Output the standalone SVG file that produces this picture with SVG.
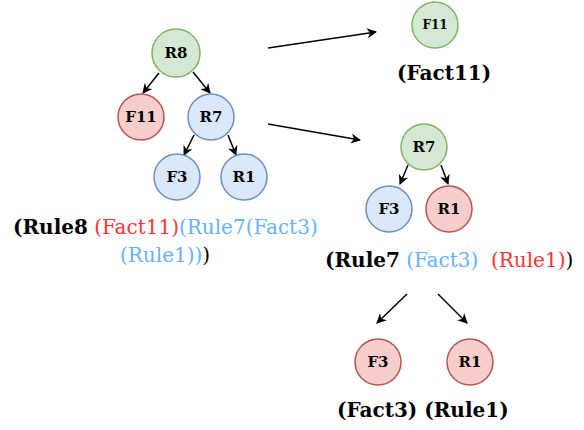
<svg xmlns="http://www.w3.org/2000/svg" width="584" height="430" viewBox="0 0 584 430">
<style>
.g{fill:#d5e8d4;stroke:#82b366;stroke-width:1.5}
.r{fill:#f8cecc;stroke:#b85450;stroke-width:1.5}
.b{fill:#dae8fc;stroke:#6c8ebf;stroke-width:1.5}
.nl{font-family:"DejaVu Serif",serif;font-weight:bold;font-size:15px;fill:#000;text-anchor:middle;dominant-baseline:central}
.t{font-family:"DejaVu Serif",serif;font-size:20px}
.k{fill:#000;font-weight:bold}
.kr{fill:#000}
.red{fill:#ff3333}
.blu{fill:#66b2ff}
.e{stroke:#000;stroke-width:1.5;fill:none;marker-end:url(#ah)}
</style>
<defs>
<marker id="ah" viewBox="0 0 10 10" refX="9" refY="5" markerWidth="10" markerHeight="10" markerUnits="userSpaceOnUse" orient="auto">
<path d="M0,0 L10,5 L0,10 L3,5 z" fill="#000"/>
</marker>
</defs>
<g id="connectors">
<line class="e" x1="159" y1="73" x2="143" y2="93"/>
<line class="e" x1="193" y1="72" x2="210" y2="93"/>
<line class="e" x1="194" y1="135" x2="184" y2="155"/>
<line class="e" x1="228" y1="135" x2="236" y2="155"/>
<line class="e" x1="268" y1="48" x2="376" y2="32"/>
<line class="e" x1="268" y1="124" x2="360" y2="140"/>
<line class="e" x1="408" y1="165" x2="400" y2="184"/>
<line class="e" x1="441" y1="165" x2="448" y2="184"/>
<line class="e" x1="407" y1="294" x2="377" y2="323"/>
<line class="e" x1="438" y1="294" x2="467" y2="323"/>
</g>
<g id="n-R8"><circle class="g" cx="176" cy="53" r="24"/><text class="nl" x="176" y="53">R8</text></g>
<g id="n-F11"><circle class="r" cx="141" cy="117" r="23"/><text class="nl" x="141" y="117">F11</text></g>
<g id="n-R7"><circle class="b" cx="211" cy="117" r="23"/><text class="nl" x="211" y="117">R7</text></g>
<g id="n-F3"><circle class="b" cx="177" cy="177" r="23"/><text class="nl" x="177" y="177">F3</text></g>
<g id="n-R1"><circle class="b" cx="244" cy="177" r="23"/><text class="nl" x="244" y="177">R1</text></g>
<g id="n-F11b"><circle class="g" cx="435" cy="25" r="23"/><text class="nl" x="435" y="25" style="font-size:12px">F11</text></g>
<g id="n-R7b"><circle class="g" cx="424" cy="147" r="23"/><text class="nl" x="424" y="147">R7</text></g>
<g id="n-F3b"><circle class="b" cx="389" cy="209" r="23"/><text class="nl" x="389" y="209">F3</text></g>
<g id="n-R1b"><circle class="r" cx="449" cy="209" r="23"/><text class="nl" x="449" y="209">R1</text></g>
<g id="n-F3c"><circle class="r" cx="378" cy="362" r="23"/><text class="nl" x="378" y="362">F3</text></g>
<g id="n-R1c"><circle class="r" cx="470" cy="362" r="23"/><text class="nl" x="470" y="362">R1</text></g>
<g id="labels">
<text class="t" x="13" y="234"><tspan class="k">(Rule8</tspan><tspan class="red"> (Fact11)</tspan><tspan class="blu">(Rule7(Fact3)</tspan></text>
<text class="t" x="120" y="262"><tspan class="blu">(Rule1))</tspan><tspan class="kr">)</tspan></text>
<text class="t k" x="397" y="80">(Fact11)</text>
<text class="t" x="325" y="267" xml:space="preserve"><tspan class="k">(Rule7</tspan><tspan class="blu"> (Fact3)</tspan><tspan class="red">  (Rule1)</tspan><tspan class="kr">)</tspan></text>
<text class="t k" x="337" y="417" xml:space="preserve">(Fact3) (Rule1)</text>
</g>
</svg>
